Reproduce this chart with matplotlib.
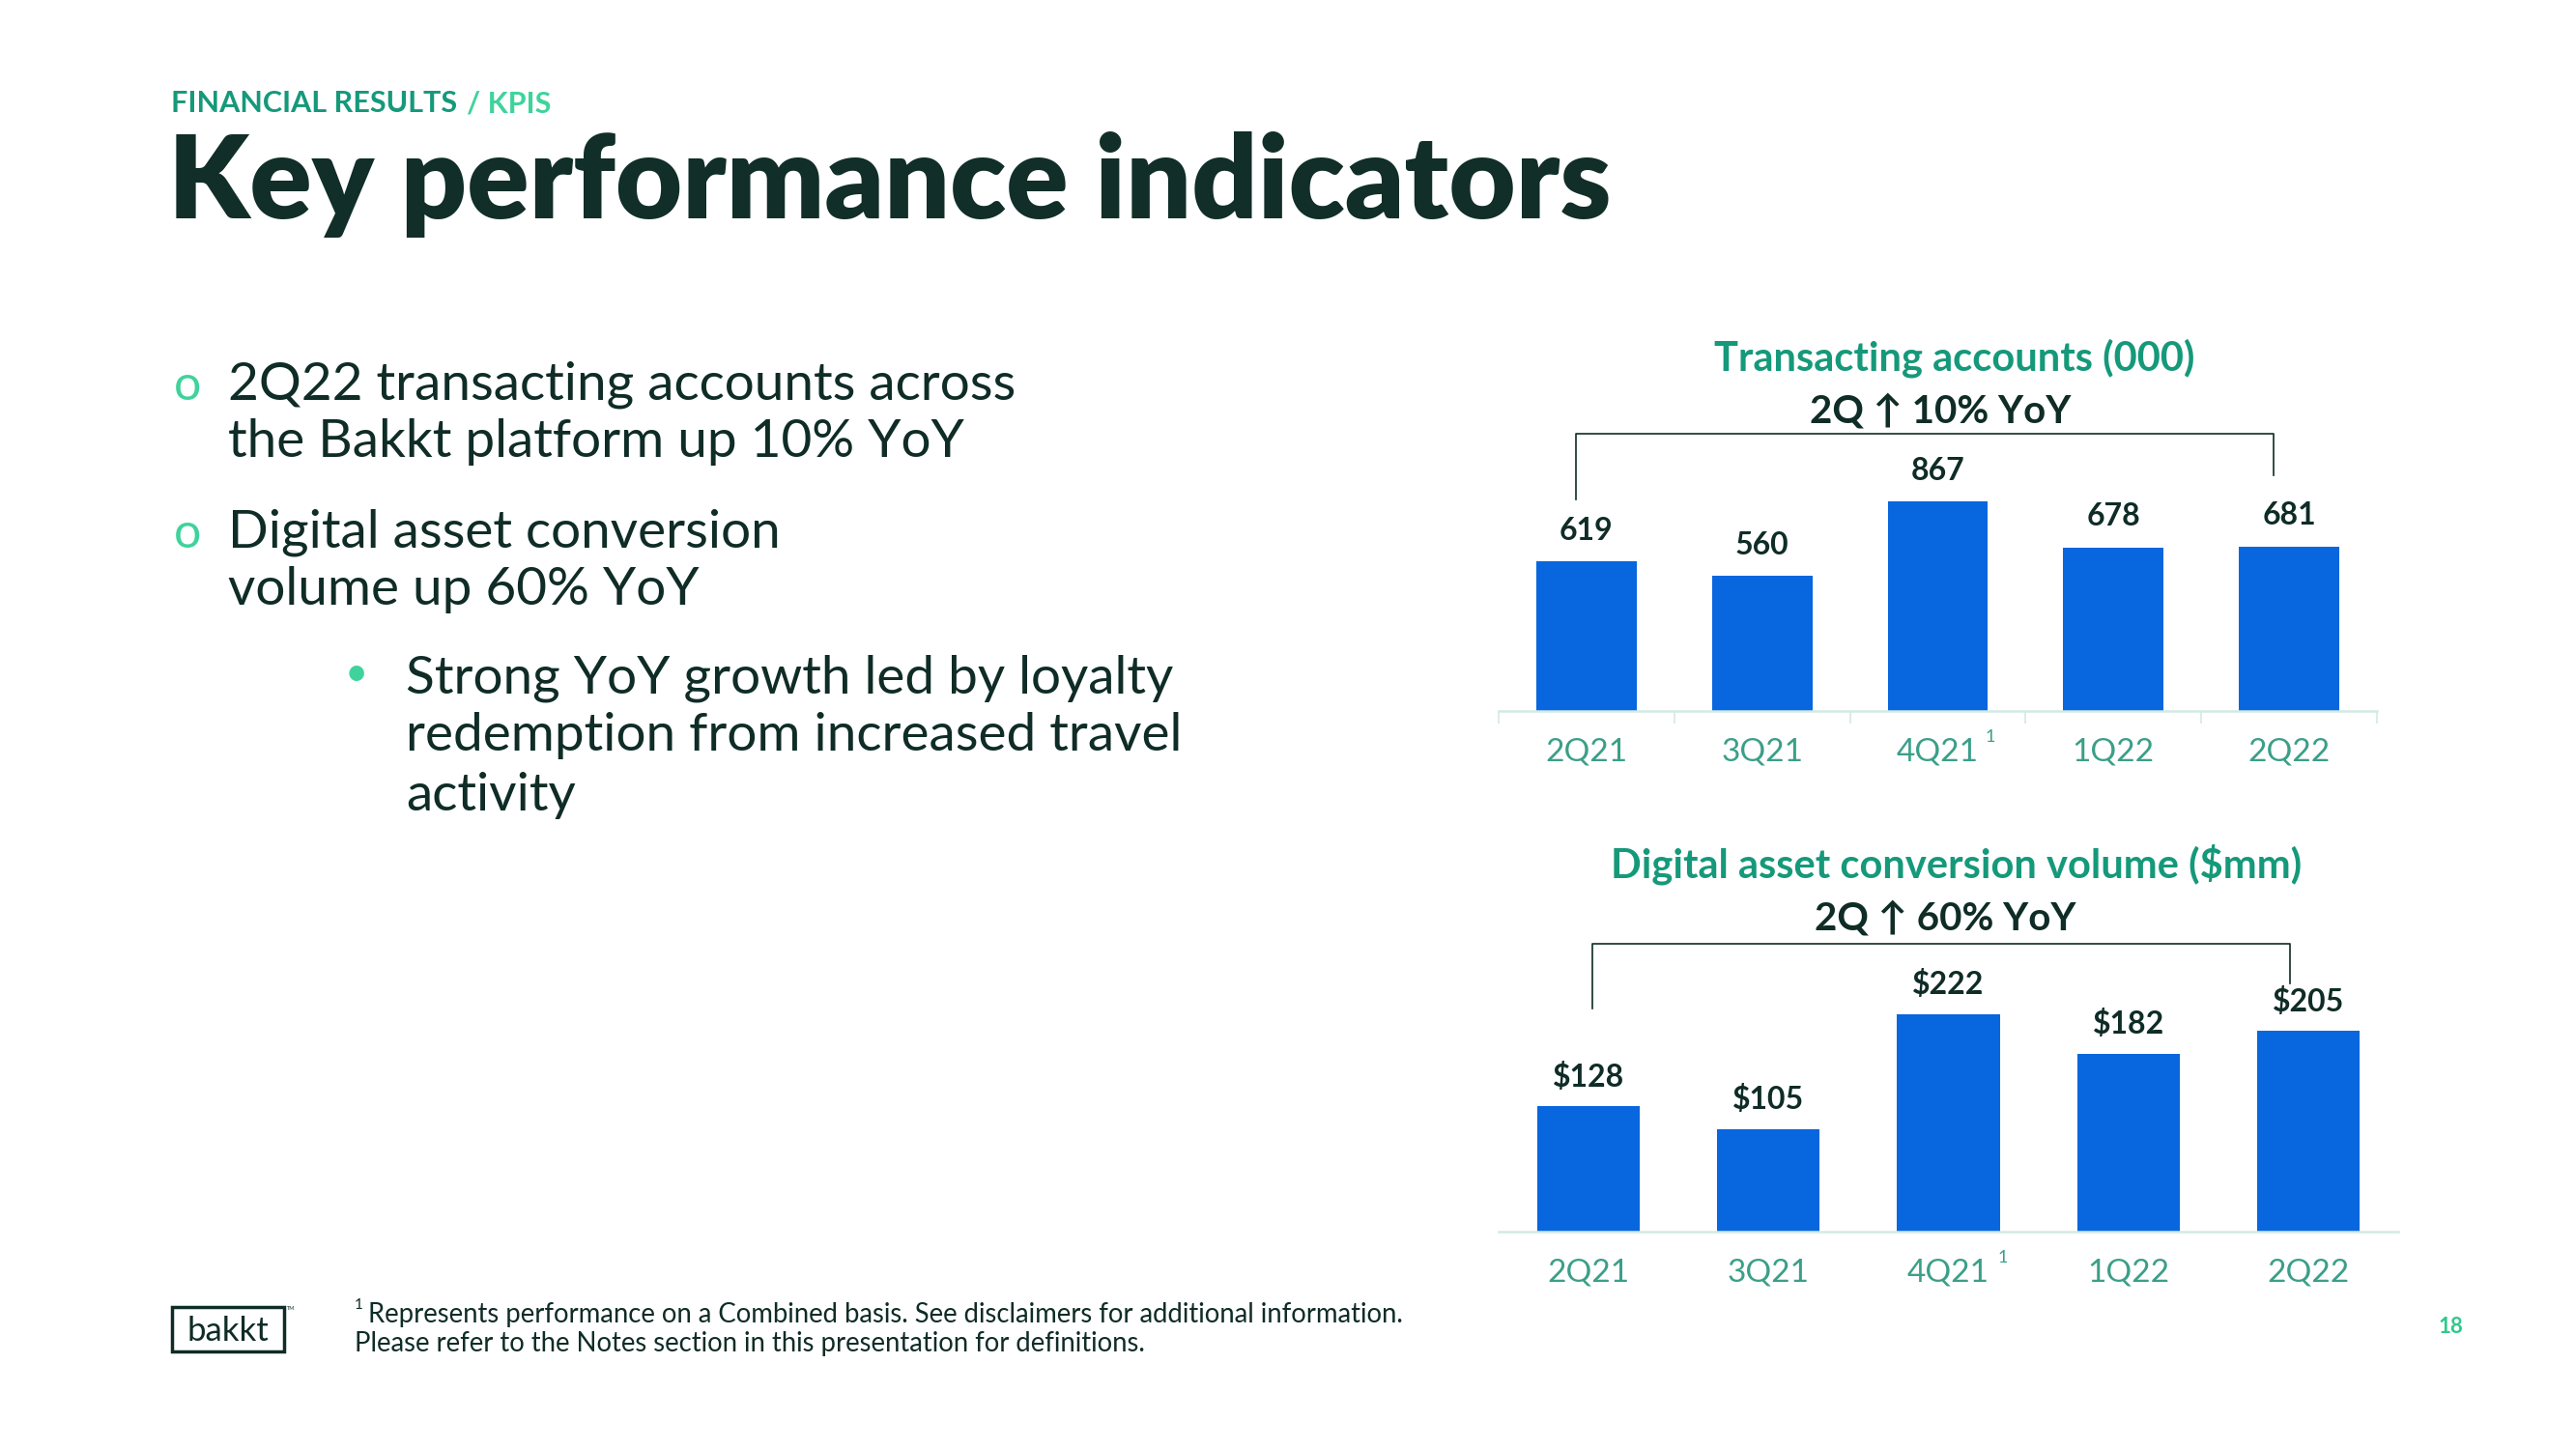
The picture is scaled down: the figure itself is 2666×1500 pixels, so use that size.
import matplotlib
matplotlib.use("Agg")
import matplotlib.pyplot as plt
from matplotlib.patches import Rectangle
import matplotlib.transforms as mtransforms

# ── Daten ────────────────────────────────────────────────────────────────────
quarters = ["2Q21", "3Q21", "4Q21", "1Q22", "2Q22"]
accounts = [619, 560, 867, 678, 681]              # Transacting accounts (000)
conversion = [128, 105, 222, 182, 205]            # Digital asset conversion ($mm)
accounts_labels = [f"{v}" for v in accounts]
conversion_labels = [f"${v}" for v in conversion]

bullets = [
    ["2Q22 transacting accounts across", "the Bakkt platform up 10% YoY"],
    ["Digital asset conversion", "volume up 60% YoY"],
]
sub_bullet = ["Strong YoY growth led by loyalty",
              "redemption from increased travel", "activity"]
footnotes = ["Represents performance on a Combined basis. See disclaimers for additional information.",
             "Please refer to the Notes section in this presentation for definitions."]

# ── Stil ─────────────────────────────────────────────────────────────────────
DARK = "#0f2c26"
TEAL = "#15997a"
TEAL_LIGHT = "#3b9f88"
MINT = "#3fd39b"
BLUE = "#0866de"
BASE = "#d3eae3"
FONT = ["Lato", "DejaVu Sans"]

plt.rcParams["font.family"] = FONT

W, H = 2666, 1500
fig = plt.figure(figsize=(W / 100, H / 100), dpi=100)
fig.patch.set_facecolor("white")


def fx(px):
    return px / W


def fy(py):
    return 1 - py / H


# ── Kopfzeile ────────────────────────────────────────────────────────────────
t1 = fig.text(fx(177), fy(116), "FINANCIAL RESULTS", color=TEAL, fontsize=22,
              fontweight="bold", va="baseline", ha="left")
fig.canvas.draw()
bb = t1.get_window_extent()
fig.text(fx(bb.x1 + 10), fy(116), "/ KPIS", color=MINT, fontsize=22,
         fontweight="bold", va="baseline", ha="left")

fig.text(fx(174), fy(226), "Key performance indicators", color="#112e28",
         fontsize=86, fontweight="heavy", va="baseline", ha="left")

# ── Aufzählung links ─────────────────────────────────────────────────────────
line_y = [[398, 457], [551, 610]]
for lines, ys in zip(bullets, line_y):
    fig.text(fx(194), fy(ys[0] + 2), "o", color=MINT, fontsize=36,
             va="center", ha="center")
    for txt, y in zip(lines, ys):
        fig.text(fx(236), fy(y), txt, color=DARK, fontsize=39.5,
                 va="center", ha="left")

fig.text(fx(369), fy(698), "\u2022", color=MINT, fontsize=30, va="center", ha="center")
for txt, y in zip(sub_bullet, [702, 762, 823]):
    fig.text(fx(420), fy(y), txt, color=DARK, fontsize=39.5,
             va="center", ha="left")

# ── Fußzeile ─────────────────────────────────────────────────────────────────
fig.text(fx(367), fy(1351), "1", color=DARK, fontsize=11, va="center", ha="left")
fig.text(fx(381), fy(1361), footnotes[0], color=DARK, fontsize=19.8,
         va="center", ha="left")
fig.text(fx(367), fy(1391), footnotes[1], color=DARK, fontsize=19.8,
         va="center", ha="left")

fig.patches.append(Rectangle((fx(178), fy(1399)), fx(294) - fx(178), fy(1353) - fy(1399),
                             transform=fig.transFigure, fill=False,
                             edgecolor=DARK, linewidth=2.5))
fig.text(fx(236), fy(1378), "bakkt", color=DARK, fontsize=25, va="center", ha="center")
fig.text(fx(297), fy(1354), "TM", color=DARK, fontsize=4, va="center", ha="left")

fig.text(fx(2536), fy(1374), "18", color="#2ec98d", fontsize=16, fontweight="bold",
         va="center", ha="center")


# ── Balkendiagramme ──────────────────────────────────────────────────────────
def bar_panel(rect, values, labels, ymax, title, title_xy, sub, sub_xy,
              bracket, label_off, separators):
    ax = fig.add_axes(rect)
    x = range(len(values))
    ax.bar(x, values, width=0.57, color=BLUE, zorder=2)
    ax.set_xlim(-0.5, len(values) - 0.5)
    ax.set_ylim(0, ymax)
    for s in ["top", "left", "right"]:
        ax.spines[s].set_visible(False)
    ax.spines["bottom"].set_color(BASE)
    ax.spines["bottom"].set_linewidth(1.8)
    ax.set_yticks([])
    ax.set_xticks(list(x))
    ax.set_xticklabels(quarters, color=TEAL_LIGHT, fontsize=24)
    ax.tick_params(axis="x", length=0, pad=20)
    if separators:
        ax.set_xticks([i - 0.5 for i in range(len(values) + 1)], minor=True)
        ax.tick_params(axis="x", which="minor", length=9, width=1.2, color=BASE)

    for xi, v, lab in zip(x, values, labels):
        ax.annotate(lab, (xi, v), xytext=(0, label_off), textcoords="offset points",
                    ha="center", va="center", fontsize=23, fontweight="bold",
                    color=DARK)

    ax.text(2.30, -0.09, "1", transform=mtransforms.blended_transform_factory(
        ax.transData, ax.transAxes), fontsize=13, color=TEAL_LIGHT,
        ha="center", va="center")

    tr = mtransforms.blended_transform_factory(ax.transData, ax.transAxes)
    (x0, x1), (yh, yl, yr) = bracket
    ax.plot([x0, x0, x1, x1], [yl, yh, yh, yr], color=DARK, linewidth=1.2,
            transform=tr, clip_on=False)

    fig.text(fx(title_xy[0]), fy(title_xy[1]), title, color=TEAL, fontsize=30,
             fontweight="bold", ha="center", va="center")
    fig.text(fx(sub_xy[0]), fy(sub_xy[1]), sub, color=DARK, fontsize=29,
             fontweight="bold", ha="center", va="center")
    return ax


bar_panel([fx(1551), fy(736), fx(2460) - fx(1551), 300 / H],
          accounts, accounts_labels, 1200,
          "Transacting accounts (000)", (2023, 371),
          "2Q \u2191 10% YoY", (2008, 426),
          ((-0.06, 3.91), (0.957, 0.73, 0.813)), 23, True)

bar_panel([fx(1551), fy(1275), fx(2482) - fx(1551), 300 / H],
          conversion, conversion_labels, 296,
          "Digital asset conversion volume ($mm)", (2025, 895),
          "2Q \u2191 60% YoY", (2013, 951),
          ((0.02, 3.90), (0.993, 0.77, 0.857)), 22, False)

fig.savefig("out.png", dpi=100, facecolor="white")
